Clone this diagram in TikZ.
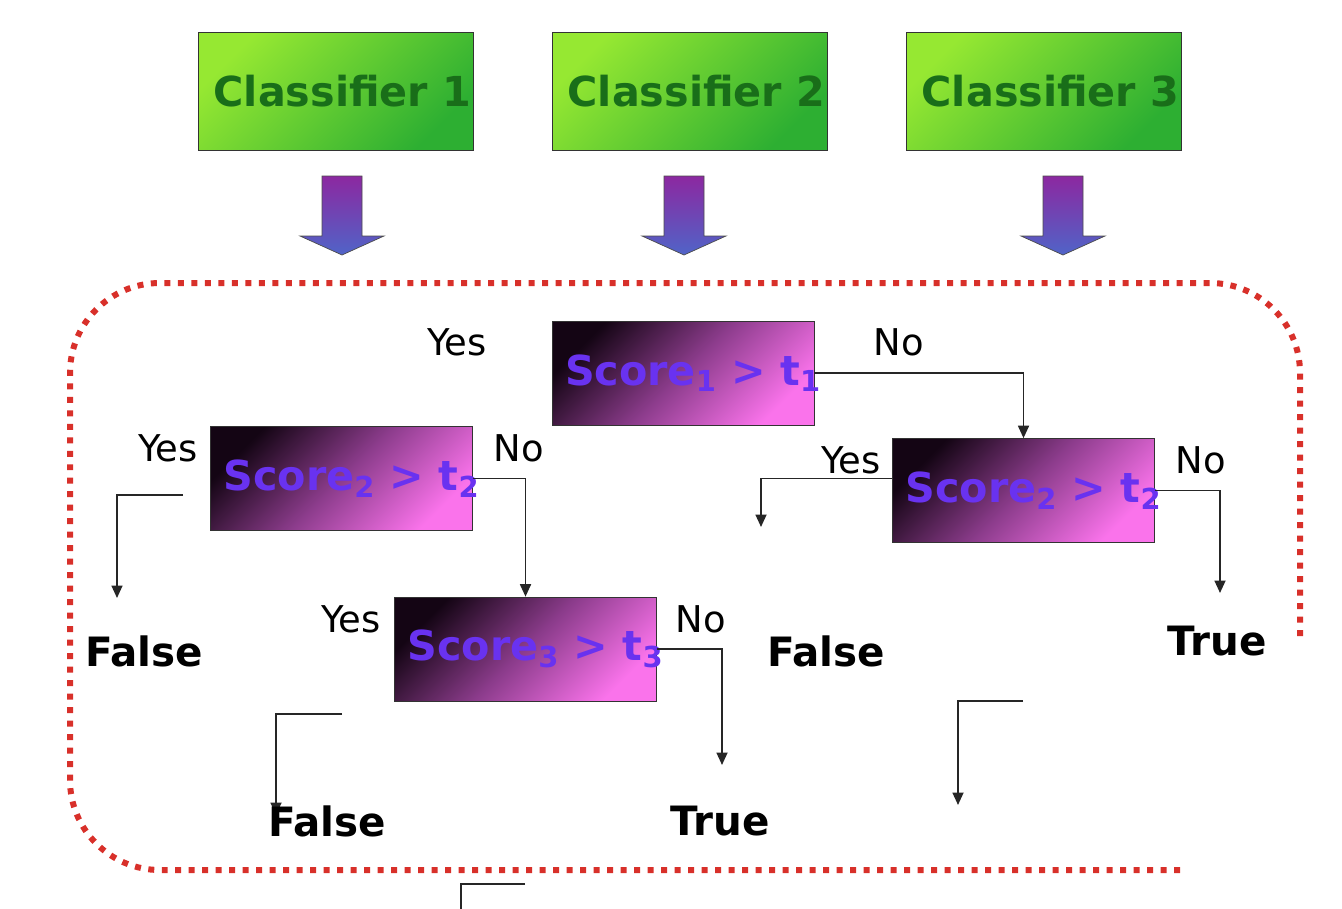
\documentclass[tikz,border=0pt]{standalone}
\usepackage{fontspec}
\setmainfont{DejaVu Sans}
\usetikzlibrary{arrows.meta}

\definecolor{clstop}{RGB}{150,232,50}
\definecolor{clsbot}{RGB}{45,175,50}
\definecolor{clstext}{RGB}{25,110,25}
\definecolor{arrtop}{RGB}{140,40,160}
\definecolor{arrbot}{RGB}{80,100,200}
\definecolor{sctop}{RGB}{20,5,20}
\definecolor{scmid}{RGB}{140,60,140}
\definecolor{scbot}{RGB}{250,115,235}
\definecolor{sctext}{RGB}{105,50,240}
\definecolor{dotred}{RGB}{216,48,42}

\newcommand{\overtext}[1]{\makebox[0pt]{\hspace*{0.4cm}#1}}

\begin{document}
\begin{tikzpicture}[x=0.02cm, y=-0.02cm,
  clsbox/.style={draw=black!80, thin, minimum width=5.5cm, minimum height=2.36cm,
    inner sep=0pt, top color=clstop, bottom color=clsbot, shading angle=45,
    text=clstext, font=\fontsize{23.5}{23.5}\selectfont\bfseries},
  scorebox/.style={draw=black!80, thin, minimum width=5.24cm, minimum height=2.08cm,
    inner sep=0pt, top color=sctop, bottom color=scbot, middle color=scmid, shading angle=45,
    text=sctext, font=\fontsize{23.5}{23.5}\selectfont\bfseries},
  ans/.style={font=\fontsize{21}{21}\selectfont},
  outcome/.style={font=\fontsize{23}{23}\selectfont\bfseries},
  link/.style={draw=black!85, line width=1pt, -{Triangle[length=0.25cm,width=0.22cm]}}
]
\useasboundingbox (0,0) rectangle (1342,909);

% classifiers
\node [clsbox] (cls1) at (335.5,91) {\hspace*{0.28cm}Classifier 1};
\node [clsbox] (cls2) at (689.5,91) {\hspace*{0.28cm}Classifier 2};
\node [clsbox] (cls3) at (1043.5,91) {\hspace*{0.28cm}Classifier 3};

% block arrows
\foreach \cx in {342,684,1063}
\shade [draw=black!70, top color=arrtop, bottom color=arrbot]
  (\cx-20,176) -- (\cx+20,176) -- (\cx+20,236) -- (\cx+42,236) -- (\cx,255)
  -- (\cx-42,236) -- (\cx-20,236) -- cycle;

% dotted frame
\draw [dotred, line width=0.12cm, dash pattern=on 0.12cm off 0.15cm, rounded corners=1.8cm]
  (1180,870) -- (70,870) -- (70,283) -- (1300,283) -- (1300,640);

% tests
\node [scorebox] (s1) at (683,373) {\overtext{Score\textsubscript{1} > t\textsubscript{1}}};
\node [scorebox] (s2a) at (341.5,478.5) {\overtext{Score\textsubscript{2} > t\textsubscript{2}}};
\node [scorebox] (s2b) at (1023.5,490.5) {\overtext{Score\textsubscript{2} > t\textsubscript{2}}};
\node [scorebox] (s3) at (525.5,649) {\overtext{Score\textsubscript{3} > t\textsubscript{3}}};

\node [ans] (s1yes) at (457,342) {Yes};
\node [ans] (s1no) at (899,342) {No};
\node [ans] (s2ayes) at (168,448) {Yes};
\node [ans] (s2ano) at (519,448) {No};
\node [ans] (s2byes) at (851,460) {Yes};
\node [ans] (s2bno) at (1201,460) {No};
\node [ans] (s3yes) at (351,619) {Yes};
\node [ans] (s3no) at (701,619) {No};

% free ends
\coordinate (a1from) at (183,495);
\coordinate (a1to) at (117,598);
\coordinate (b1to) at (761,527);
\coordinate (b2to) at (1220,593);
\coordinate (c2to) at (722,765);
\coordinate (d1from) at (342,714);
\coordinate (d1to) at (276,815);
\coordinate (e1from) at (1023,701);
\coordinate (e1to) at (958,805);
\coordinate (g1from) at (525,884);
\coordinate (g1to) at (461,912);

\draw [link] (s1.east) -| (s2b.north);
\draw [link] (s2a.east) -| (s3.north);
\draw [link] (a1from) -| (a1to);
\draw [link] (s2b.west) ++(0,-12) -| (b1to);
\draw [link] (s2b.east) -| (b2to);
\draw [link] (s3.east) -| (c2to);
\draw [link] (d1from) -| (d1to);
\draw [link] (e1from) -| (e1to);
\draw [draw=black!85, line width=1pt] (g1from) -| (g1to);

% outcomes
\node [outcome] (f1) at (144,651) {False};
\node [outcome] (f2) at (327,821) {False};
\node [outcome] (t1) at (720,821) {True};
\node [outcome] (f3) at (826,651) {False};
\node [outcome] (t2) at (1217,641) {True};
\end{tikzpicture}
\end{document}
